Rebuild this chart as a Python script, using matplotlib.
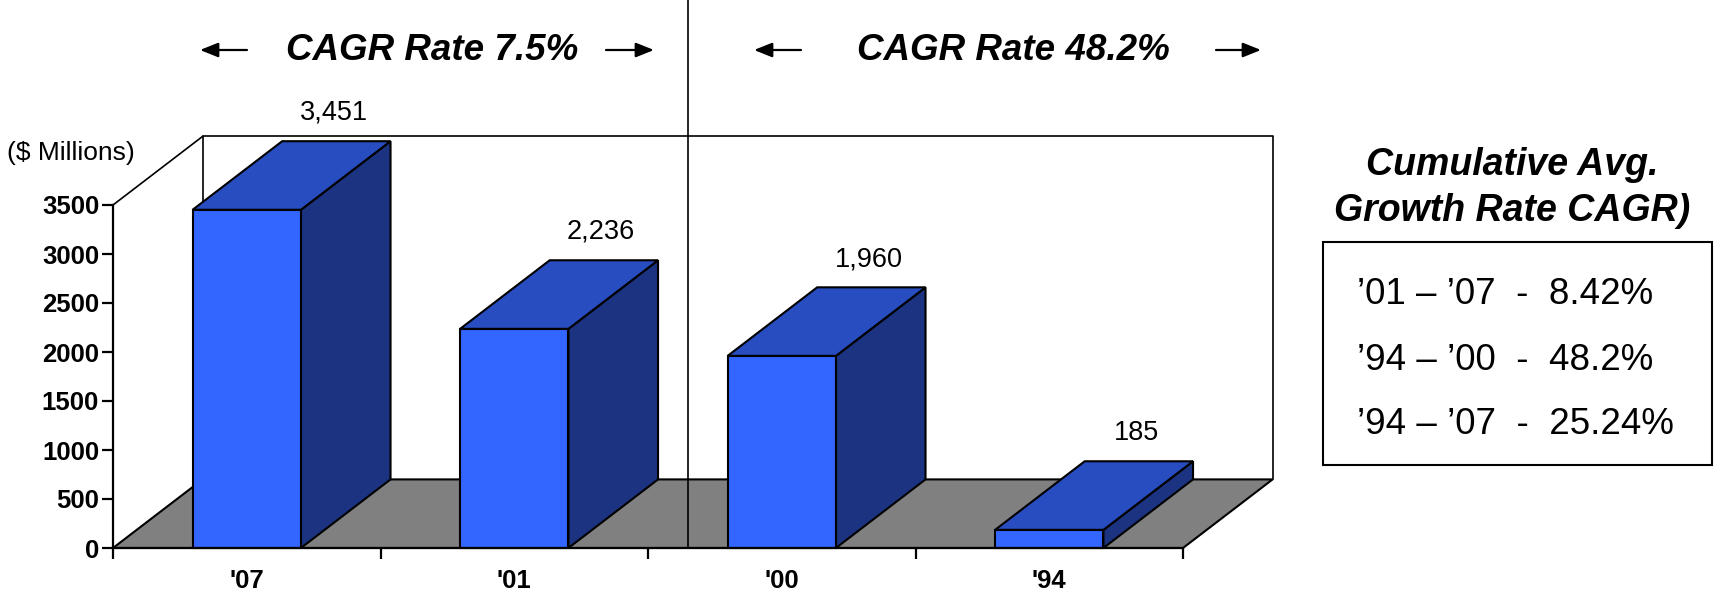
import matplotlib.pyplot as plt
from matplotlib.patches import Polygon, Rectangle

plt.rcParams['font.family'] = ['Liberation Sans', 'DejaVu Sans']

years = ["'07", "'01", "'00", "'94"]
revenue = [3451, 2236, 1960, 185]
value_labels = ["3,451", "2,236", "1,960", "185"]
y_ticks = [0, 500, 1000, 1500, 2000, 2500, 3000, 3500]
period_titles = ["CAGR Rate 7.5%", "CAGR Rate 48.2%"]
summary_title = "Cumulative Avg.\nGrowth Rate CAGR)"
summary_rows = ["\u201901 \u2013 \u201907  -  8.42%",
                "\u201994 \u2013 \u201900  -  48.2%",
                "\u201994 \u2013 \u201907  -  25.24%"]

W, H = 1714, 594
FRONT = '#3366FF'
TOP = '#274DC0'
SIDE = '#1B3380'
FLOOR = '#808080'

# depth of the fake 3d box, in data units
DX = 0.335
DY = 700
BAR_W = 0.405
YMAX = 3500

fig = plt.figure(figsize=(W / 100, H / 100), dpi=100)
ax = fig.add_axes([113 / W, 46 / H, (4 + DX) * 267.5 / W, (YMAX + DY) * 0.098 / H])
ax.set_xlim(0, 4 + DX)
ax.set_ylim(0, YMAX + DY)

# floor and walls
ax.add_patch(Polygon([(0, 0), (4, 0), (4 + DX, DY), (DX, DY)], closed=True,
                     fc=FLOOR, ec='black', lw=1.5, zorder=1, clip_on=False))
ax.plot([DX, DX, 4 + DX, 4 + DX], [DY, YMAX + DY, YMAX + DY, DY],
        color='black', lw=1.2, zorder=1, clip_on=False)
ax.plot([0, DX], [YMAX, YMAX + DY], color='black', lw=1.2, zorder=1, clip_on=False)

# divider between the two growth periods
ax.plot([2.148, 2.148], [0, 6000], color='black', lw=1.2, zorder=2, clip_on=False)

for i, (v, lab) in enumerate(zip(revenue, value_labels)):
    xc = i + 0.5
    x0, x1 = xc - BAR_W / 2, xc + BAR_W / 2
    ax.add_patch(Polygon([(x1, 0), (x1 + DX, DY), (x1 + DX, v + DY), (x1, v)],
                         closed=True, fc=SIDE, ec='black', lw=1.5, zorder=3, clip_on=False))
    ax.add_patch(Polygon([(x0, v), (x1, v), (x1 + DX, v + DY), (x0 + DX, v + DY)],
                         closed=True, fc=TOP, ec='black', lw=1.5, zorder=3, clip_on=False))
    ax.add_patch(Rectangle((x0, 0), BAR_W, v, fc=FRONT, ec='black', lw=1.5,
                           zorder=4, clip_on=False))
    ax.annotate(lab, (xc + DX, v + DY), xytext=(-2, 11), textcoords='offset points',
                ha='center', va='bottom', fontsize=19.5)

for s in ['top', 'right']:
    ax.spines[s].set_visible(False)
ax.spines['left'].set_bounds(0, YMAX)
ax.spines['bottom'].set_bounds(0, 4)
for s in ['left', 'bottom']:
    ax.spines[s].set_linewidth(1.6)
    ax.spines[s].set_zorder(5)

ax.set_yticks(y_ticks)
ax.tick_params(axis='y', length=8, width=1.6, pad=2, labelsize=18.5)
for t in ax.get_yticklabels():
    t.set_fontweight('bold')

ax.set_xticks(range(5))
ax.set_xticklabels([])
ax.set_xticks([i + 0.5 for i in range(4)], minor=True)
ax.set_xticklabels(years, minor=True, fontsize=18.5, fontweight='bold')
ax.tick_params(axis='x', which='major', length=8, width=1.6)
ax.tick_params(axis='x', which='minor', length=0, pad=15)

fig.text(71 / W, 1 - 153 / H, '($ Millions)', fontsize=19, ha='center', va='center')

# period headings with arrows
arrow = dict(arrowstyle='-|>,head_length=0.55,head_width=0.22', mutation_scale=20,
             lw=1.6, color='black', shrinkA=0, shrinkB=0)
for title, xc, (a0, a1), (b0, b1) in zip(period_titles, [432, 1013],
                                         [(200, 247), (754, 801)],
                                         [(606, 654), (1216, 1261)]):
    fig.text(xc / W, 1 - 50 / H, title, fontsize=26.5, fontweight='bold',
             style='italic', ha='center', va='center')
    ax.annotate('', xy=(a0, H - 50), xytext=(a1, H - 50), xycoords='figure pixels',
                arrowprops=arrow)
    ax.annotate('', xy=(b1, H - 50), xytext=(b0, H - 50), xycoords='figure pixels',
                arrowprops=arrow)

# summary panel
fig.text(1512 / W, 1 - 188 / H, summary_title, fontsize=27, fontweight='bold',
         style='italic', ha='center', va='center', linespacing=1.35)
fig.add_artist(Rectangle((1323 / W, 1 - 465 / H), 389 / W, 223 / H,
                         transform=fig.transFigure, fill=False, ec='black', lw=1.5))
for row, yc in zip(summary_rows, [294, 360, 424]):
    fig.text(1357 / W, 1 - yc / H, row, fontsize=26.5, ha='left', va='center')

fig.savefig('out.png', dpi=100)
